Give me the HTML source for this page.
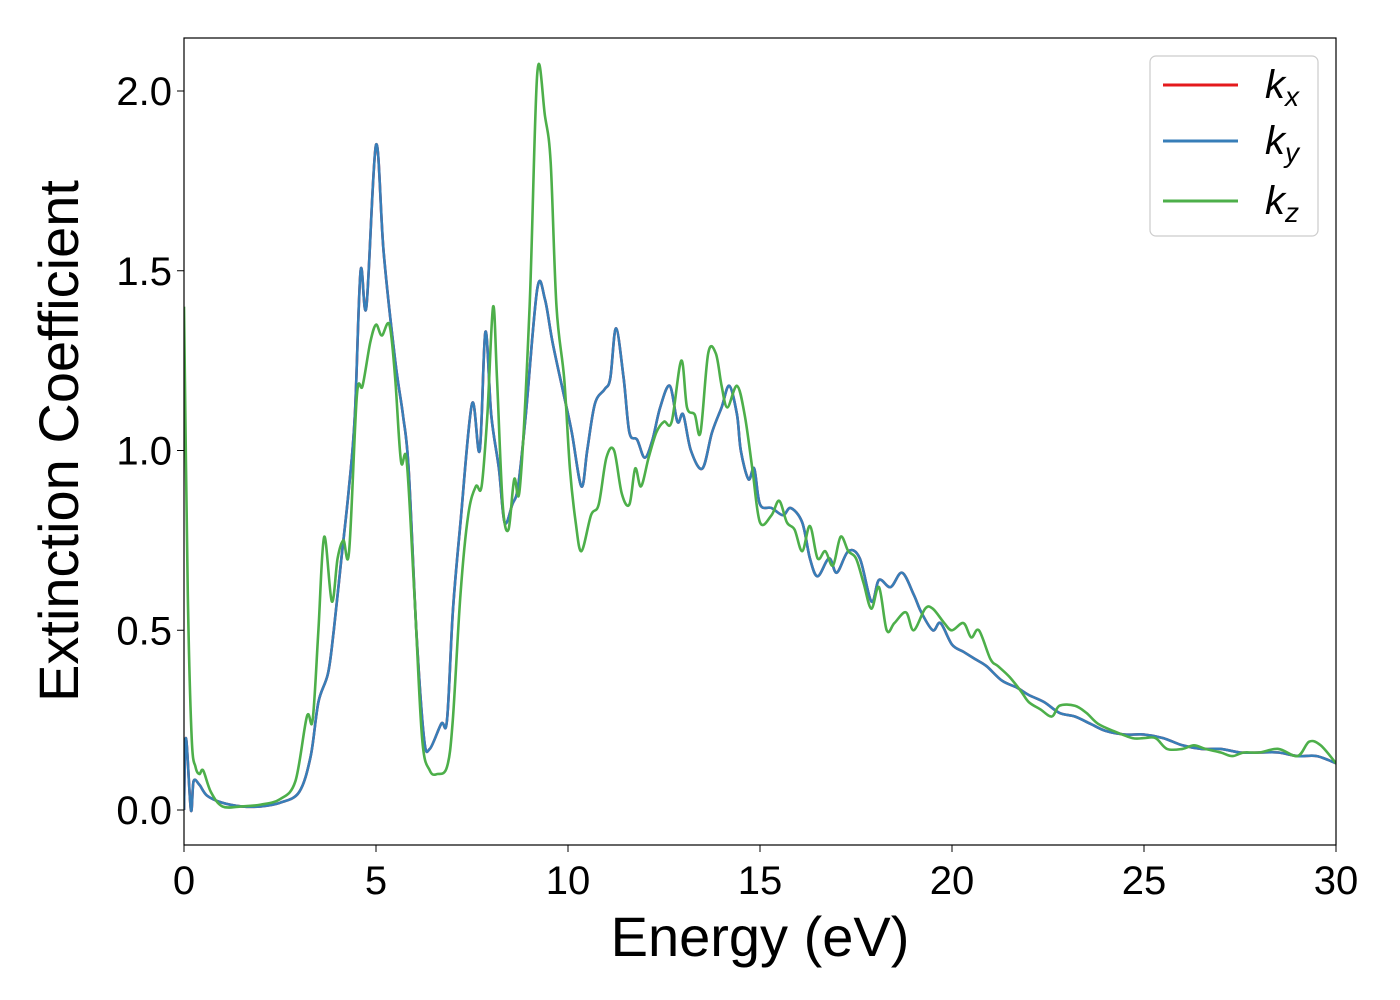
<!DOCTYPE html>
<html><head><meta charset="utf-8"><style>
html,body{margin:0;padding:0;background:#fff;}
svg{display:block;font-family:"Liberation Sans","DejaVu Sans",sans-serif;}
</style></head><body>
<svg id="chart" width="1400" height="1000" viewBox="0 0 1400 1000">
<rect x="0" y="0" width="1400" height="1000" fill="#fff"/>
<g id="series"></g>
<rect x="184" y="38" width="1152" height="807" fill="none" stroke="#000" stroke-width="1.2"/>
<g id="axes"></g>
<text x="760" y="956" font-size="56" text-anchor="middle">Energy (eV)</text>
<text transform="translate(78,441) rotate(-90)" font-size="56" text-anchor="middle">Extinction Coefficient</text>
<g>
<rect x="1150" y="56" width="168" height="180" rx="6" fill="#fff" stroke="#ccc" stroke-width="1.2"/>
<line x1="1163" y1="85" x2="1238" y2="85" stroke="#e41a1c" stroke-width="3"/>
<line x1="1163" y1="141" x2="1238" y2="141" stroke="#377eb8" stroke-width="3"/>
<line x1="1163" y1="201" x2="1238" y2="201" stroke="#4daf4a" stroke-width="3"/>
<text x="1265" y="98" font-size="40" font-style="italic">k<tspan font-size="28" dy="8">x</tspan></text>
<text x="1265" y="154" font-size="40" font-style="italic">k<tspan font-size="28" dy="8">y</tspan></text>
<text x="1265" y="214" font-size="40" font-style="italic">k<tspan font-size="28" dy="8">z</tspan></text>
</g>
</svg>
<script>
const xTicks=[0,5,10,15,20,25,30];
const yTicks=[0.0,0.5,1.0,1.5,2.0];
const yTickLabels=["0.0","0.5","1.0","1.5","2.0"];
const eXY=[0,0.05,0.18,0.25,0.4,0.6,1.0,1.5,2.0,2.5,3.0,3.3,3.5,3.75,3.9,4.1,4.3,4.45,4.6,4.75,5.0,5.2,5.5,5.7,5.85,6.05,6.25,6.4,6.7,6.85,7.0,7.2,7.5,7.7,7.85,8.0,8.2,8.35,8.55,8.7,8.9,9.2,9.4,9.6,9.9,10.1,10.35,10.5,10.7,10.95,11.1,11.25,11.45,11.6,11.8,12.0,12.2,12.4,12.65,12.85,13.0,13.2,13.5,13.75,14.0,14.2,14.4,14.5,14.7,14.85,15.0,15.3,15.6,15.8,16.1,16.3,16.5,16.8,17.0,17.3,17.6,17.9,18.1,18.4,18.7,19.0,19.2,19.5,19.7,20.0,20.3,20.6,20.9,21.3,21.7,22.0,22.4,22.8,23.2,23.6,24.0,24.5,25.0,25.5,26,26.5,27,27.5,28,28.5,29,29.5,30];
const kXY=[0.0,0.2,0.0,0.08,0.07,0.04,0.02,0.01,0.01,0.02,0.05,0.15,0.3,0.38,0.5,0.7,0.9,1.1,1.5,1.4,1.85,1.55,1.25,1.1,0.95,0.5,0.2,0.17,0.24,0.25,0.55,0.8,1.13,1.0,1.33,1.1,0.95,0.8,0.85,0.9,1.1,1.45,1.42,1.3,1.15,1.05,0.9,1.0,1.13,1.17,1.2,1.34,1.2,1.05,1.03,0.98,1.03,1.12,1.18,1.08,1.1,1.0,0.95,1.05,1.12,1.18,1.1,1.0,0.92,0.95,0.85,0.84,0.82,0.84,0.8,0.7,0.65,0.7,0.66,0.72,0.7,0.58,0.64,0.62,0.66,0.6,0.55,0.5,0.52,0.46,0.44,0.42,0.4,0.36,0.34,0.32,0.3,0.27,0.26,0.24,0.22,0.21,0.21,0.2,0.18,0.17,0.17,0.16,0.16,0.16,0.15,0.15,0.13];
const eZ=[0,0.1,0.2,0.3,0.4,0.5,0.7,1.0,1.5,2.0,2.5,2.9,3.2,3.35,3.5,3.65,3.85,4.0,4.15,4.3,4.5,4.65,4.85,5.0,5.15,5.35,5.5,5.65,5.8,6.0,6.2,6.4,6.6,6.85,7.0,7.2,7.4,7.6,7.75,7.9,8.05,8.15,8.3,8.45,8.6,8.75,9.0,9.2,9.4,9.55,9.7,9.9,10.05,10.2,10.35,10.6,10.8,11.0,11.2,11.4,11.6,11.75,11.9,12.1,12.3,12.5,12.7,12.95,13.1,13.3,13.45,13.65,13.85,14.0,14.15,14.4,14.6,14.8,15.0,15.3,15.5,15.7,15.9,16.1,16.3,16.5,16.7,16.9,17.1,17.3,17.5,17.7,17.9,18.1,18.3,18.5,18.8,19.0,19.3,19.5,19.8,20.0,20.3,20.5,20.7,21.0,21.2,21.5,21.8,22.0,22.3,22.6,22.8,23.2,23.5,23.8,24.2,24.7,25.0,25.3,25.6,26.0,26.3,26.6,27.0,27.3,27.6,28.0,28.5,29.0,29.3,29.6,30.0];
const kZ=[1.4,0.6,0.2,0.12,0.1,0.11,0.05,0.01,0.01,0.015,0.03,0.08,0.26,0.25,0.5,0.76,0.58,0.7,0.75,0.72,1.15,1.18,1.3,1.35,1.32,1.35,1.2,0.97,0.97,0.6,0.2,0.11,0.1,0.12,0.25,0.6,0.82,0.9,0.9,1.1,1.4,1.2,0.85,0.78,0.92,0.9,1.4,2.05,1.93,1.8,1.4,1.2,0.95,0.8,0.72,0.82,0.85,0.98,1.0,0.88,0.85,0.95,0.9,0.98,1.05,1.08,1.08,1.25,1.12,1.1,1.05,1.27,1.27,1.18,1.12,1.18,1.1,0.95,0.8,0.82,0.86,0.8,0.78,0.72,0.79,0.7,0.72,0.68,0.76,0.72,0.7,0.63,0.56,0.62,0.5,0.52,0.55,0.5,0.56,0.56,0.52,0.5,0.52,0.48,0.5,0.42,0.4,0.37,0.33,0.3,0.28,0.26,0.29,0.29,0.27,0.24,0.22,0.2,0.2,0.2,0.17,0.17,0.18,0.17,0.16,0.15,0.16,0.16,0.17,0.15,0.19,0.18,0.13];

const NS="http://www.w3.org/2000/svg";
function xs(v){return 184+(v-0)/30*1152;}
function ys(v){return 810-v*359.5;}
function pathFrom(e,k){
  const p=e.map((v,i)=>[xs(v),ys(k[i])]);
  let d="M"+p[0][0].toFixed(1)+","+p[0][1].toFixed(1);
  for(let i=0;i<p.length-1;i++){
    const p0=p[Math.max(0,i-1)],p1=p[i],p2=p[i+1],p3=p[Math.min(p.length-1,i+2)];
    const c1x=p1[0]+(p2[0]-p0[0])/6,c1y=p1[1]+(p2[1]-p0[1])/6;
    const c2x=p2[0]-(p3[0]-p1[0])/6,c2y=p2[1]-(p3[1]-p1[1])/6;
    d+="C"+c1x.toFixed(1)+","+c1y.toFixed(1)+" "+c2x.toFixed(1)+","+c2y.toFixed(1)+" "+p2[0].toFixed(1)+","+p2[1].toFixed(1);
  }
  return d;
}
const sg=document.getElementById('series');
const clip=document.createElementNS(NS,'clipPath');clip.setAttribute('id','pc');
const cr=document.createElementNS(NS,'rect');cr.setAttribute('x',184);cr.setAttribute('y',38);cr.setAttribute('width',1152);cr.setAttribute('height',807);
clip.appendChild(cr);document.getElementById('chart').appendChild(clip);
sg.setAttribute('clip-path','url(#pc)');
function addLine(e,k,color,name){
  const p=document.createElementNS(NS,'path');
  p.setAttribute('d',pathFrom(e,k));p.setAttribute('fill','none');p.setAttribute('stroke',color);
  p.setAttribute('stroke-width','2.6');p.setAttribute('stroke-linejoin','round');
  
  
  sg.appendChild(p);
}
addLine(eXY,kXY,'#e41a1c','series-kx');
addLine(eXY,kXY,'#377eb8','series-ky');
addLine(eZ,kZ,'#4daf4a','series-kz');
const ax=document.getElementById('axes');
xTicks.forEach(v=>{
  const l=document.createElementNS(NS,'line');
  l.setAttribute('x1',xs(v));l.setAttribute('x2',xs(v));l.setAttribute('y1',845);l.setAttribute('y2',852);l.setAttribute('stroke','#000');
  
  
  ax.appendChild(l);
  const t=document.createElementNS(NS,'text');
  t.setAttribute('x',xs(v));t.setAttribute('y',894);t.setAttribute('font-size','40');t.setAttribute('text-anchor','middle');
  t.textContent=String(v);
  
  
  ax.appendChild(t);
});
yTicks.forEach((v,i)=>{
  const l=document.createElementNS(NS,'line');
  l.setAttribute('x1',177);l.setAttribute('x2',184);l.setAttribute('y1',ys(v));l.setAttribute('y2',ys(v));l.setAttribute('stroke','#000');
  
  
  ax.appendChild(l);
  const t=document.createElementNS(NS,'text');
  t.setAttribute('x',172);t.setAttribute('y',ys(v)+14);t.setAttribute('font-size','40');t.setAttribute('text-anchor','end');
  t.textContent=yTickLabels[i];
  
  
  ax.appendChild(t);
});
</script>
</body></html>
